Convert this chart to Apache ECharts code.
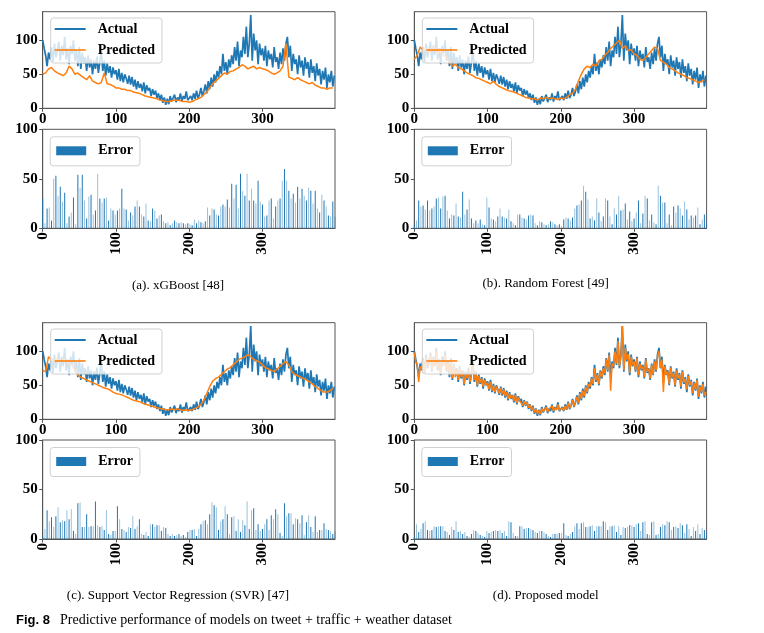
<!DOCTYPE html>
<html>
<head>
<meta charset="utf-8">
<script src="https://cdn.jsdelivr.net/npm/echarts@6/dist/echarts.min.js"></script>
<style>html,body{margin:0;padding:0;background:#fff;}#c{width:764px;height:633px;}</style>
</head>
<body>
<div id="c"></div>
<script>
// ---------- DATA ----------
const xTicks = [0, 100, 200, 300];
const yTicks = [0, 50, 100];
const actualStep = 2;
const actual = [
100,88,78,62,82,72,90,68,95,75,
85,98,70,92,78,105,72,88,65,92,
80,100,70,86,62,90,58,82,66,75,
55,78,60,72,50,70,58,76,52,68,
85,55,70,48,66,52,62,45,60,50,
56,42,58,40,52,38,50,44,36,48,
35,46,32,42,28,40,30,36,25,38,
22,34,26,30,18,28,20,26,15,22,
12,20,8,16,5,14,6,18,10,12,
20,9,16,12,22,10,18,14,25,12,
10,18,12,22,14,26,15,20,30,18,
25,35,22,40,28,45,32,50,38,55,
45,62,50,80,55,68,50,72,60,78,
65,90,70,98,62,85,75,105,80,120,
75,95,137,70,110,85,100,65,95,78,
88,70,92,62,85,72,80,60,90,68,
75,58,82,65,88,70,95,105,75,92,
55,80,65,72,50,78,60,70,48,75,
58,68,45,72,52,62,40,66,48,58,
35,55,42,60,30,50,38,55,32,48
];
const predStep = 4;
const predXGB = [
50,52,58,60,55,52,50,48,52,62,
58,50,52,48,45,42,48,40,38,36,
38,52,36,35,33,30,30,28,28,26,
26,24,23,22,20,18,17,16,15,14,
12,11,10,10,11,12,12,11,10,10,
9,10,12,14,16,20,24,30,36,40,
44,48,52,50,54,55,58,60,64,62,
58,60,62,58,60,58,57,55,52,50,
52,55,62,95,46,44,42,45,42,40,
38,36,38,34,32,30,30,28,30,30
];
const predRF = [
72,78,90,85,88,82,85,90,80,88,
78,75,68,62,65,60,58,55,52,50,
48,45,44,42,40,38,36,40,35,32,
30,28,26,25,24,22,20,18,16,15,
14,14,12,15,14,16,14,15,14,13,
15,14,16,20,22,28,40,50,58,62,
60,65,62,70,72,78,82,88,92,96,
100,88,92,85,86,80,78,72,70,75,
80,85,90,88,70,68,65,60,58,55,
52,50,48,45,44,42,40,38,40,42
];
const predSVR = [
72,70,92,88,86,90,84,88,86,82,
80,72,65,62,60,58,56,54,52,50,
48,46,45,43,40,38,37,36,34,32,
30,28,27,26,24,22,21,20,18,17,
16,15,14,14,15,14,15,14,13,14,
13,14,16,18,22,28,38,48,56,60,
62,66,70,74,76,80,84,88,90,92,
95,92,88,86,84,80,76,74,72,70,
74,78,82,85,80,70,66,64,62,60,
58,55,52,48,45,42,40,40,42,45
];
const predProposedStep = 2;
const predProposed = [
98,85,80,55,78,74,88,70,90,78,
82,95,72,90,80,100,75,85,68,88,
78,95,72,82,65,86,60,80,62,72,
58,75,62,70,52,68,60,72,55,66,
80,58,68,50,64,54,60,48,58,50,
54,44,55,42,50,40,48,44,38,46,
37,44,34,40,30,38,31,35,27,36,
24,32,27,29,20,27,21,25,17,21,
14,18,10,15,8,13,8,16,11,12,
18,11,15,13,20,12,17,14,22,13,
12,17,13,20,15,24,16,20,28,19,
26,33,24,38,30,42,34,48,40,52,
48,60,52,75,57,66,52,70,62,75,
68,88,72,95,42,82,78,100,82,115,
78,92,137,72,105,88,96,68,92,80,
85,72,90,65,82,74,78,62,88,70,
74,60,80,66,85,72,92,100,76,88,
40,78,66,70,52,76,62,68,50,72,
60,66,48,70,54,60,44,64,50,56,
38,53,44,58,33,48,40,52,35,40
];
const errStep = 3;
const errXGB = [
30,5,20,21,8,50,53,33,42,27,36,
5,12,16,31,4,54,41,54,28,10,
32,34,14,18,55,30,26,30,31,8,
20,18,14,18,20,40,20,19,8,16,
13,22,28,22,14,12,25,8,7,20,
18,10,13,14,7,5,6,3,5,8,
6,5,6,5,4,5,4,3,9,5,
8,6,5,7,21,13,20,19,14,13,
22,24,22,29,21,45,30,44,20,55,
38,33,55,28,40,28,25,48,27,24,
12,13,28,30,10,22,28,30,48,60,
48,38,30,35,26,42,30,40,33,28,
41,38,25,38,20,16,34,28,22,13,12,27,12
];
const errRF = [
3,8,28,22,23,19,28,18,20,22,30,
31,20,32,33,18,10,14,13,25,12,
11,37,14,19,29,10,5,8,5,9,
4,3,31,21,10,9,7,12,20,12,
11,10,19,7,5,3,14,14,11,10,
9,13,14,13,5,3,7,6,4,3,
4,7,6,4,3,4,2,9,11,10,
8,11,20,23,24,28,43,37,29,10,
12,8,30,16,7,12,30,28,12,4,
20,14,33,18,19,25,9,17,7,10,
16,28,5,15,33,30,8,14,6,4,
43,33,26,26,5,14,3,22,16,23,
20,13,27,19,9,13,11,13,21,4,9,14,7
];
const errSVR = [
2,10,29,18,22,12,23,32,17,19,18,
29,20,30,8,5,36,37,12,12,25,
12,13,13,38,14,12,13,9,29,5,
4,8,8,33,20,10,9,7,12,11,
23,10,13,20,5,4,7,3,15,15,
12,14,14,8,12,11,5,3,5,3,
4,5,3,4,2,7,9,9,10,3,
10,15,18,19,15,25,37,34,32,9,
18,20,33,25,5,22,23,8,20,7,
19,14,38,10,29,31,9,15,8,10,
15,20,9,24,20,30,25,6,3,36,
23,26,26,15,21,20,16,24,4,17,
24,12,7,23,7,9,9,16,10,9,8,5,8
];
const errProposed = [
2,15,7,10,16,18,9,8,9,13,12,
13,13,13,8,7,4,12,9,18,7,
8,5,7,3,2,5,9,8,6,4,
3,2,8,6,7,8,9,8,9,6,
8,3,18,17,6,3,3,13,13,10,
11,11,10,9,7,6,8,8,7,5,
3,2,5,5,5,6,6,16,4,3,
5,7,13,16,10,16,17,12,12,13,
14,8,13,13,13,18,17,9,13,13,
14,7,13,4,12,11,12,14,14,12,
15,16,8,17,18,5,4,17,18,4,
5,12,15,14,18,17,9,12,13,11,
16,14,6,15,10,3,12,8,15,5,11,9,6
];
const captions = ['(a). xGBoost [48]', '(b). Random Forest [49]', '(c). Support Vector Regression (SVR) [47]', '(d). Proposed model'];
const figLabel = 'Fig. 8';
const figText = 'Predictive performance of models on tweet + traffic + weather dataset';

// ---------- LAYOUT ----------
const SERIF = "'Liberation Serif','Times New Roman',serif";
const BLUE = '#1f77b4', ORANGE = '#ff7f0e';
const AX = '#555';
const panels = [
  {left: 42.7, top: 11.7, btop: 129.3, pred: predXGB, pstep: predStep, err: errXGB, cap: [178, 285.7]},
  {left: 414.3, top: 11.7, btop: 129.3, pred: predRF, pstep: predStep, err: errRF, cap: [545.7, 283.3]},
  {left: 42.7, top: 322.7, btop: 440, pred: predSVR, pstep: predStep, err: errSVR, cap: [178, 595.7]},
  {left: 414.3, top: 322.7, btop: 440, pred: predProposed, pstep: predProposedStep, err: errProposed, cap: [545.7, 595.7]}
];
const W = 292.3;
const pairs = (arr, step) => arr.map((v, i) => [i * step, v]);

const grid = [], xAxis = [], yAxis = [], series = [], legend = [], graphic = [];
const labelStyle = {fontFamily: SERIF, fontWeight: 'bold', fontSize: 15, color: '#000'};

panels.forEach((p, k) => {
  const gi = 2 * k, gb = 2 * k + 1;
  grid.push({left: p.left, top: p.top, width: W, height: 96.6, show: true, borderColor: AX, borderWidth: 1});
  grid.push({left: p.left, top: p.btop, width: W, height: 99, show: true, borderColor: AX, borderWidth: 1});
  const xa = (g, rot) => ({
    type: 'value', gridIndex: g, min: 0, max: 399,
    axisLine: {show: true, onZero: false, lineStyle: {color: AX, width: 1}},
    axisTick: {show: true, length: 3.5, lineStyle: {color: AX}, customValues: xTicks},
    axisLabel: Object.assign({margin: rot ? 4 : 3, rotate: rot, customValues: xTicks}, labelStyle),
    splitLine: {show: false}
  });
  xAxis.push(xa(gi, 0));
  xAxis.push(xa(gb, 90));
  const ya = (g, max) => ({
    type: 'value', gridIndex: g, min: 0, max: max,
    axisLine: {show: true, lineStyle: {color: AX, width: 1}},
    axisTick: {show: true, length: 3.5, lineStyle: {color: AX}, customValues: yTicks},
    axisLabel: Object.assign({margin: 5, customValues: yTicks}, labelStyle),
    splitLine: {show: false}
  });
  yAxis.push(ya(gi, 142));
  yAxis.push(ya(gb, 100));

  series.push({
    name: 'Actual', type: 'line', xAxisIndex: gi, yAxisIndex: gi, data: pairs(actual, actualStep),
    symbol: 'none', lineStyle: {color: BLUE, width: 1.7}, itemStyle: {color: BLUE}, z: 2, animation: false
  });
  series.push({
    name: 'Predicted', type: 'line', xAxisIndex: gi, yAxisIndex: gi, data: pairs(p.pred, p.pstep),
    symbol: 'none', lineStyle: {color: ORANGE, width: 1.5}, itemStyle: {color: ORANGE}, z: 3, animation: false
  });
  series.push({
    name: 'Error', type: 'bar', xAxisIndex: gb, yAxisIndex: gb, barWidth: 1,
    data: p.err.map((v, i) => ({value: [i * errStep, v], itemStyle: {color: i % 2 ? 'rgba(31,119,180,0.45)' : BLUE}})),
    itemStyle: {color: BLUE}, animation: false
  });

  const common = {
    orient: 'vertical', selectedMode: false, borderColor: '#d0d0d0', borderWidth: 1, borderRadius: 3,
    backgroundColor: 'rgba(255,255,255,0.8)',
    textStyle: {fontFamily: SERIF, fontWeight: 'bold', fontSize: 14, color: '#000', padding: [0, 0, 0, 7]}
  };
  legend.push(Object.assign({}, common, {
    left: p.left + 8, top: p.top + 6.3, itemWidth: 31, itemHeight: 14, itemGap: 7, padding: [4, 7, 6, 4],
    data: [
      {name: 'Actual', icon: 'path://M0,0H31V2H0Z', itemStyle: {color: BLUE, borderWidth: 0}},
      {name: 'Predicted', icon: 'path://M0,0H31V1.6H0Z', itemStyle: {color: ORANGE, borderWidth: 0}}
    ]
  }));
  legend.push(Object.assign({}, common, {
    left: p.left + 7.5, top: p.btop + 7.5, itemWidth: 30, itemHeight: 9, padding: [7, 7, 8, 6],
    data: [{name: 'Error', icon: 'rect'}]
  }));

  graphic.push({
    type: 'text', x: p.cap[0], y: p.cap[1],
    style: {text: captions[k], font: "13px " + SERIF, fill: '#000', align: 'center', verticalAlign: 'middle'}
  });
});

graphic.push({
  type: 'text', x: 16, y: 620.7,
  style: {text: figLabel, font: "bold 13px 'Liberation Sans',Arial,sans-serif", fill: '#000', verticalAlign: 'middle'}
});
graphic.push({
  type: 'text', x: 60, y: 620.7,
  style: {text: figText, font: "14px " + SERIF, fill: '#000', verticalAlign: 'middle'}
});

const chart = echarts.init(document.getElementById('c'), null, {renderer: 'canvas'});
chart.setOption({animation: false, grid, xAxis, yAxis, series, legend, graphic});
</script>
</body>
</html>
